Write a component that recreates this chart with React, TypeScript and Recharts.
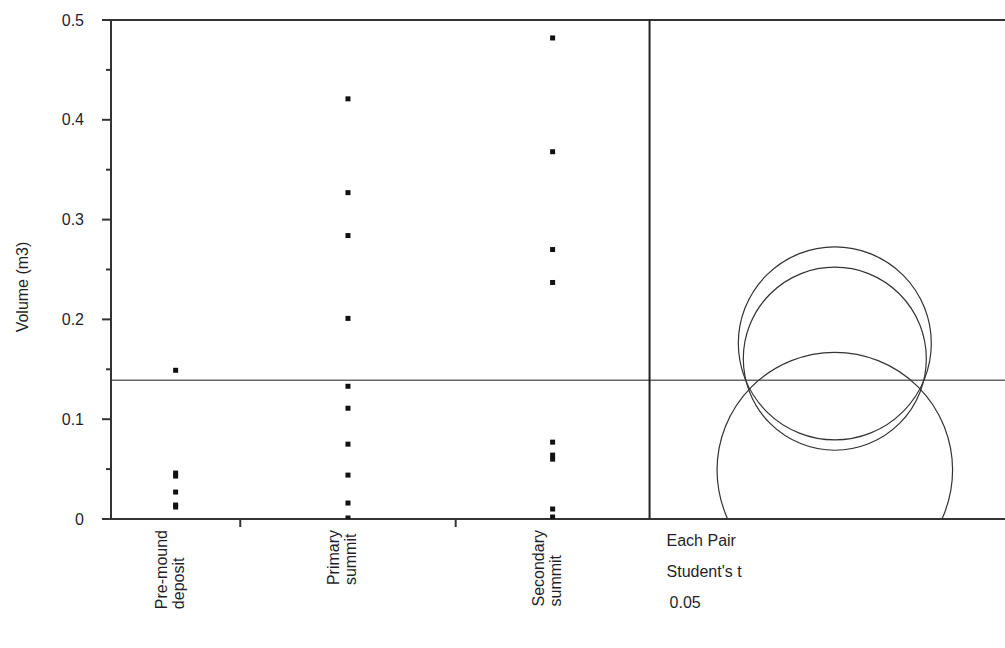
import React from 'react';
import { ScatterChart, Scatter, XAxis, YAxis, ReferenceLine } from 'recharts';

// group labels and sizes (JMP draws each group as wide as its count)
const groups = ['Pre-mound\ndeposit', 'Primary\nsummit', 'Secondary\nsummit'];
const groupSizes = [6, 10, 9];
const circlePanelWidth = 16.5;

// Volume (m3) per group
const preMound = [0.149, 0.046, 0.043, 0.027, 0.014, 0.012];
const primary = [0.421, 0.327, 0.284, 0.201, 0.133, 0.111, 0.075, 0.044, 0.016, 0.001];
const secondary = [0.482, 0.368, 0.27, 0.237, 0.077, 0.064, 0.06, 0.01, 0.002];

const yTicks = [0, 0.1, 0.2, 0.3, 0.4, 0.5];
const yMinorTicks = [0.05, 0.15, 0.25, 0.35, 0.45];

// comparison circles (mean, radius) for Pre-mound, Primary, Secondary
const circleMeans = [0.049, 0.1606, 0.176];
const circleRadii = [0.118, 0.0917, 0.0967];
const circleX = 33.6;

const testLabel = ['Each Pair', "Student's t", '0.05'];

const W = 1005;
const H = 648;
const TOP = 20;
const X_AXIS_H = 129;
const Y_AXIS_W = 111;
const PLOT_H = H - TOP - X_AXIS_H;
const Y_MAX = 0.5;
const PX_PER_Y = PLOT_H / Y_MAX;

const FONT = 'Arial, "Liberation Sans", sans-serif';
const FONT_SIZE = 16;
const TEXT = '#1f1f2a';

const bounds = groupSizes.reduce<number[]>((acc, n) => [...acc, acc[acc.length - 1] + n], [0]);
const centers = groupSizes.map((n, i) => bounds[i] + n / 2);
const dividers = bounds.slice(1, -1);
const panelStart = bounds[bounds.length - 1];
const xMax = panelStart + circlePanelWidth;

const allGroups = [preMound, primary, secondary];
const points = allGroups.flatMap((vals, i) => vals.map((v) => ({ x: centers[i], y: v })));
const grandMean = points.reduce((s, p) => s + p.y, 0) / points.length;
const circles = circleMeans.map((m, i) => ({ x: circleX, y: m, r: circleRadii[i] }));

let ctx: CanvasRenderingContext2D | null = null;
const measure = (s: string) => {
  if (!ctx) {
    ctx = document.createElement('canvas').getContext('2d');
    if (ctx) ctx.font = `${FONT_SIZE}px ${FONT}`;
  }
  return ctx ? ctx.measureText(s).width : s.length * FONT_SIZE * 0.5;
};

const XTick = (props: any) => {
  const { x, y, payload } = props;
  const v = payload.value;
  const gi = centers.indexOf(v);
  if (gi >= 0) {
    const lines = groups[gi].split('\n');
    const maxW = Math.max(...lines.map(measure));
    const startY = y + 11 + maxW;
    return (
      <g>
        {lines.map((ln, k) => {
          const bx = x - 6 + (k - (lines.length - 1) / 2) * 17 + 6;
          return (
            <text key={k} x={bx} y={startY} transform={`rotate(-90 ${bx} ${startY})`}
              fontFamily={FONT} fontSize={FONT_SIZE} fill={TEXT}>{ln}</text>
          );
        })}
      </g>
    );
  }
  if (v === panelStart) {
    return (
      <g>
        {testLabel.map((ln, k) => (
          <text key={k} x={x + 17 + (k === 2 ? 3 : 0)} y={y + 27 + k * 31}
            fontFamily={FONT} fontSize={FONT_SIZE} fill={TEXT}>{ln}</text>
        ))}
      </g>
    );
  }
  return <line x1={x} x2={x} y1={y} y2={y + 8} stroke="#333" strokeWidth={2} />;
};

const YTick = (props: any) => {
  const { x, y, payload } = props;
  const major = yTicks.includes(payload.value);
  return (
    <g>
      <line x1={x - (major ? 9 : 5)} x2={x} y1={y} y2={y} stroke="#333" strokeWidth={2} />
      {major && (
        <text x={x - 27} y={y} textAnchor="end" dominantBaseline="central"
          fontFamily={FONT} fontSize={FONT_SIZE} fill={TEXT}>{String(payload.value)}</text>
      )}
    </g>
  );
};

const Square = (p: any) => <rect x={p.cx - 2.5} y={p.cy - 2.5} width={5} height={5} fill="#111" />;

const Ring = (p: any) => (
  <circle cx={p.cx} cy={p.cy} r={p.payload.r * PX_PER_Y} fill="none" stroke="#333" strokeWidth={1.2} />
);

export default function App() {
  return (
    <div style={{ position: 'absolute', left: 0, top: 0, width: W, height: H, background: '#fff' }}>
      <ScatterChart width={W} height={H} margin={{ top: TOP, right: 0, bottom: 0, left: 0 }}>
        <XAxis type="number" dataKey="x" domain={[0, xMax]} allowDataOverflow
          ticks={[...centers, ...dividers, panelStart].sort((a, b) => a - b)} interval={0}
          tickSize={0} tickMargin={0} tick={<XTick />} height={X_AXIS_H}
          axisLine={{ stroke: '#333', strokeWidth: 2 }} />
        <YAxis type="number" dataKey="y" domain={[0, Y_MAX]} allowDataOverflow
          ticks={[...yTicks, ...yMinorTicks].sort((a, b) => a - b)} interval={0}
          tickSize={0} tickMargin={0} tick={<YTick />} width={Y_AXIS_W}
          axisLine={{ stroke: '#333', strokeWidth: 2 }}
          label={{
            content: () => (
              <text x={22} y={287} transform="rotate(-90 22 287)" textAnchor="middle"
                dominantBaseline="central" fontFamily={FONT} fontSize={FONT_SIZE} fill={TEXT}>
                Volume (m3)
              </text>
            ),
          }} />
        <ReferenceLine y={Y_MAX} stroke="#333" strokeWidth={2} />
        <ReferenceLine y={grandMean} stroke="#666" strokeWidth={1.5} />
        <ReferenceLine x={panelStart} stroke="#222" strokeWidth={2} />
        <Scatter data={points} shape={Square} isAnimationActive={false} />
        <Scatter data={circles} shape={Ring} isAnimationActive={false} />
      </ScatterChart>
    </div>
  );
}
